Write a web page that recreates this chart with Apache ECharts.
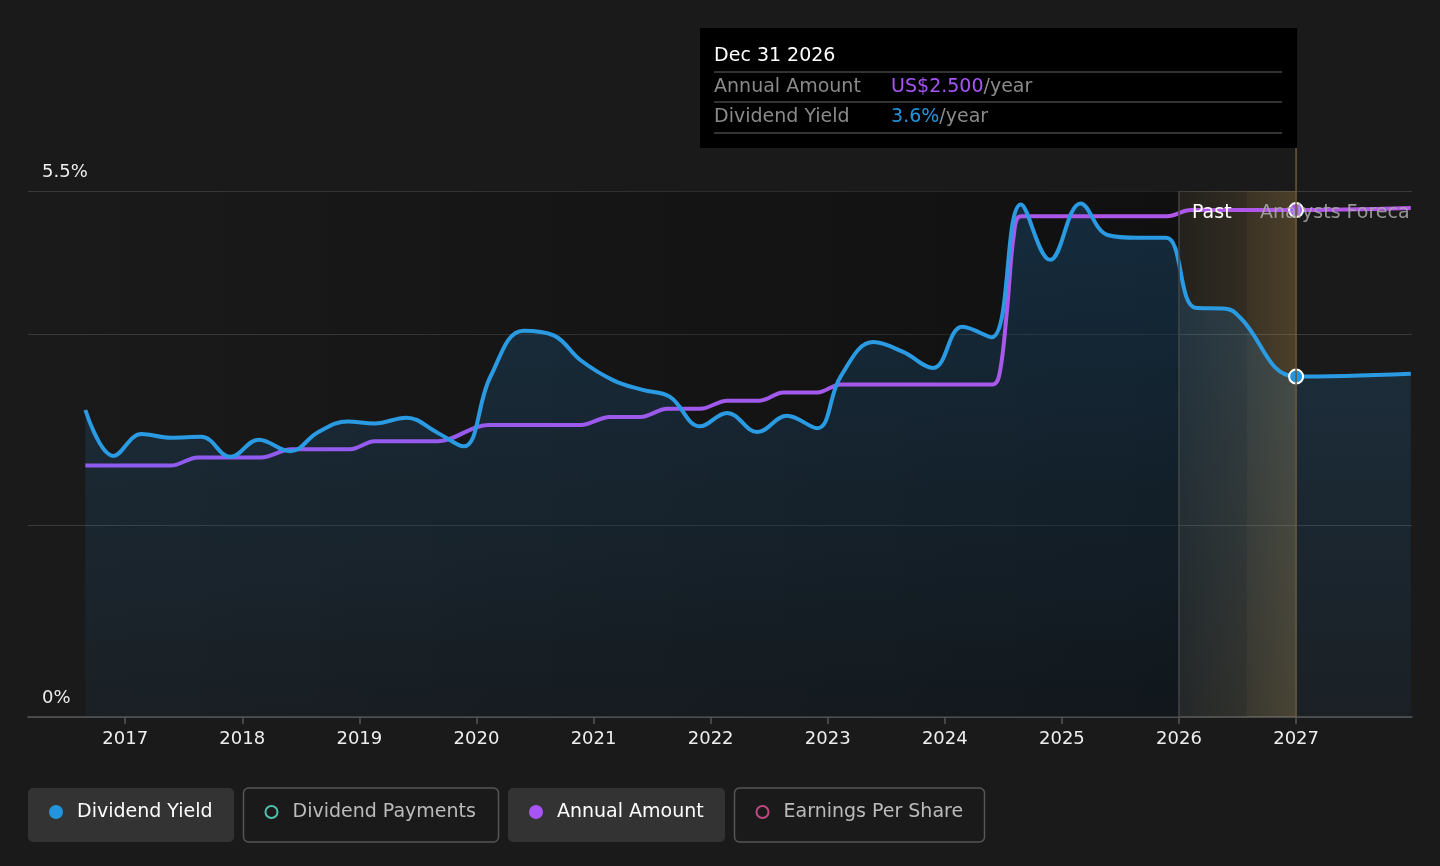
<!DOCTYPE html>
<html>
<head>
<meta charset="utf-8">
<script src="https://cdn.jsdelivr.net/npm/echarts@6/dist/echarts.min.js"></script>
<style>
  html, body { margin: 0; padding: 0; background: #1a1a1a; }
  #chart { width: 1440px; height: 866px; }
</style>
</head>
<body>
<div id="chart"></div>
<script>
// year ticks on the time axis
const years = [2017, 2018, 2019, 2020, 2021, 2022, 2023, 2024, 2025, 2026, 2027];
const yieldGrid = [0, 2, 4, 5.5];
const yieldLabels = [0, 5.5];

// dividend yield, % (fractional year, value)
const yieldData = [
  [2016.66, 3.21], [2016.90, 2.73], [2017.14, 2.96], [2017.39, 2.92], [2017.65, 2.93],
  [2017.90, 2.72], [2018.14, 2.90], [2018.41, 2.78], [2018.65, 2.98], [2018.90, 3.09],
  [2019.13, 3.07], [2019.40, 3.13], [2019.67, 2.97], [2019.89, 2.83], [2020.12, 3.56],
  [2020.40, 4.04], [2020.66, 3.99], [2020.89, 3.73], [2021.17, 3.52], [2021.42, 3.42],
  [2021.65, 3.35], [2021.91, 3.04], [2022.14, 3.18], [2022.40, 2.98], [2022.65, 3.15],
  [2022.91, 3.02], [2023.11, 3.56], [2023.39, 3.92], [2023.64, 3.82], [2023.90, 3.65],
  [2024.15, 4.08], [2024.40, 3.97], [2024.65, 5.36], [2024.90, 4.78], [2025.16, 5.37],
  [2025.39, 5.04], [2025.65, 5.01], [2025.89, 5.01], [2026.14, 4.28], [2026.40, 4.27],
  [2026.52, 4.18], [2027.00, 3.56], [2027.98, 3.59]
];

// annual dividend amount, US$
const amountData = [
  [2016.66, 1.24], [2017.39, 1.24], [2017.62, 1.28], [2018.16, 1.28], [2018.42, 1.32],
  [2018.92, 1.32], [2019.13, 1.36], [2019.67, 1.36], [2020.10, 1.44], [2020.89, 1.44],
  [2021.14, 1.48], [2021.40, 1.48], [2021.63, 1.52], [2021.91, 1.52], [2022.14, 1.56],
  [2022.42, 1.56], [2022.62, 1.60], [2022.91, 1.60], [2023.11, 1.64], [2024.41, 1.64],
  [2024.47, 1.70], [2024.53, 2.00], [2024.59, 2.38], [2024.65, 2.47],
  [2025.90, 2.47], [2026.10, 2.50], [2027.00, 2.50], [2027.98, 2.51]
];

const forecastStart = 2026;
const tipAt = 2027;
const tipYield = 3.56;
const tipAmount = 2.50;

const legendItems = [
  { name: 'Dividend Yield', color: '#2394df', active: true },
  { name: 'Dividend Payments', color: '#4fc1a9', active: false },
  { name: 'Annual Amount', color: '#a855f7', active: true },
  { name: 'Earnings Per Share', color: '#c0487f', active: false }
];

const FONT = 'DejaVu Sans';
const BG = '#1a1a1a';
const lin = (stops) => new echarts.graphic.LinearGradient(0, 0, 1, 0, stops);

const chart = echarts.init(document.getElementById('chart'));

chart.setOption({
  backgroundColor: BG,
  animation: false,
  textStyle: { fontFamily: FONT },
  grid: { left: 28, right: 28, top: 191, bottom: 149 },
  xAxis: {
    type: 'value',
    min: 2016.17,
    max: 2027.99,
    axisLine: { lineStyle: { color: '#555', width: 1.5 } },
    axisTick: { customValues: years, length: 7, lineStyle: { color: '#555', width: 1.5 } },
    axisLabel: {
      customValues: years, color: '#eee', fontSize: 18, margin: 13,
      formatter: v => String(v)
    },
    splitLine: { show: false }
  },
  yAxis: [
    {
      type: 'value', min: 0, max: 5.5,
      axisLine: { show: false },
      axisTick: { show: false, customValues: yieldGrid },
      splitLine: { lineStyle: { color: '#3a3a3a', width: 1 } },
      axisLabel: {
        customValues: yieldLabels, inside: true, margin: 14,
        verticalAlign: 'bottom', padding: [0, 0, 10, 0],
        color: '#eee', fontSize: 18,
        formatter: v => v + '%'
      }
    },
    { type: 'value', min: 0, max: 2.594, show: false }
  ],
  series: [
    {
      // background bands: past darkening + forecast zone
      type: 'line', z: 1, silent: true, data: yieldData,
      showSymbol: false, lineStyle: { opacity: 0 },
      markArea: {
        silent: true,
        data: [
          [{ xAxis: 2016.17, itemStyle: { color: lin([{ offset: 0, color: 'rgba(0,0,0,0)' }, { offset: 1, color: 'rgba(0,0,0,0.38)' }]) } }, { xAxis: forecastStart }],
          [{ xAxis: forecastStart, itemStyle: { color: lin([{ offset: 0, color: 'rgba(190,150,80,0.06)' }, { offset: 1, color: 'rgba(190,150,80,0.15)' }]) } }, { xAxis: 2026.58 }],
          [{ xAxis: 2026.58, itemStyle: { color: lin([{ offset: 0, color: 'rgba(190,150,80,0.2)' }, { offset: 1, color: 'rgba(190,150,80,0.3)' }]) } }, { xAxis: tipAt }]
        ]
      },
      markLine: {
        silent: true, symbol: ['none', 'none'], label: { show: false },
        lineStyle: { color: '#454545', width: 1.5, type: 'solid' },
        data: [{ xAxis: forecastStart }]
      }
    },
    {
      name: 'Dividend Yield area', type: 'line', z: 2, data: yieldData,
      smooth: 0.4, showSymbol: false, silent: true,
      lineStyle: { opacity: 0 },
      areaStyle: {
        color: new echarts.graphic.LinearGradient(0, 0, 0, 1, [
          { offset: 0, color: 'rgba(35,150,240,0.28)' },
          { offset: 1, color: 'rgba(35,150,240,0.07)' }
        ])
      }
    },
    {
      name: 'Annual Amount', type: 'line', z: 3, yAxisIndex: 1, data: amountData,
      smooth: 0.35, showSymbol: false,
      lineStyle: { width: 4, color: lin([{ offset: 0, color: '#8c5cf0' }, { offset: 1, color: '#b556e8' }]) },
      markPoint: {
        symbol: 'circle', symbolSize: 14, label: { show: false },
        itemStyle: { color: '#a855f7', borderColor: '#fff', borderWidth: 2 },
        data: [{ coord: [tipAt, tipAmount] }]
      }
    },
    {
      name: 'Dividend Yield', type: 'line', z: 4, data: yieldData,
      smooth: 0.4, showSymbol: false,
      lineStyle: { width: 4, color: '#2a9be3' },
      markPoint: {
        symbol: 'circle', symbolSize: 14, label: { show: false },
        itemStyle: { color: '#2394df', borderColor: '#fff', borderWidth: 2 },
        data: [{ coord: [tipAt, tipYield] }]
      }
    }
  ]
});

// overlay: tooltip box, zone labels, legend chips
const pTip = chart.convertToPixel({ xAxisIndex: 0, yAxisIndex: 0 }, [tipAt, 0]);
const pPast = chart.convertToPixel({ xAxisIndex: 0, yAxisIndex: 0 }, [forecastStart, 0]);
const tipX = pTip[0];
const boxRight = tipX + 1;
const boxLeft = boxRight - 597;

const graphic = [
  { type: 'line', z: 5, shape: { x1: tipX, y1: 148, x2: tipX, y2: pTip[1] }, style: { stroke: '#6b5a3c', lineWidth: 1.5 } },
  { type: 'rect', z: 20, shape: { x: boxLeft, y: 28, width: 597, height: 120 }, style: { fill: '#000' } },
  { type: 'text', z: 21, left: boxLeft + 14, top: 47, style: { text: 'Dec 31 2026', fill: '#fff', font: '19px ' + FONT } },
  { type: 'line', z: 21, shape: { x1: boxLeft + 14, y1: 72, x2: boxRight - 15, y2: 72 }, style: { stroke: '#444', lineWidth: 1.5 } },
  { type: 'text', z: 21, left: boxLeft + 14, top: 78, style: { text: 'Annual Amount', fill: '#8a8a8a', font: '19px ' + FONT } },
  { type: 'text', z: 21, left: boxLeft + 191, top: 78, style: { text: '{v|US$2.500}{u|/year}', rich: { v: { fill: '#a855f7', font: '19px ' + FONT }, u: { fill: '#8a8a8a', font: '19px ' + FONT } } } },
  { type: 'line', z: 21, shape: { x1: boxLeft + 14, y1: 102, x2: boxRight - 15, y2: 102 }, style: { stroke: '#444', lineWidth: 1.5 } },
  { type: 'text', z: 21, left: boxLeft + 14, top: 108, style: { text: 'Dividend Yield', fill: '#8a8a8a', font: '19px ' + FONT } },
  { type: 'text', z: 21, left: boxLeft + 191, top: 108, style: { text: '{v|3.6%}{u|/year}', rich: { v: { fill: '#2394df', font: '19px ' + FONT }, u: { fill: '#8a8a8a', font: '19px ' + FONT } } } },
  { type: 'line', z: 21, shape: { x1: boxLeft + 14, y1: 133, x2: boxRight - 15, y2: 133 }, style: { stroke: '#444', lineWidth: 1.5 } },
  { type: 'text', z: 10, x: pPast[0] + 13, y: 213, style: { text: 'Past', fill: '#fff', font: '19px ' + FONT, verticalAlign: 'middle' } },
  { type: 'text', z: 10, x: tipX - 36, y: 213, style: { text: 'Analysts Forecast', fill: 'rgba(170,170,170,0.85)', font: '19px ' + FONT, verticalAlign: 'middle', width: 1412 - (tipX - 36), overflow: 'truncate', ellipsis: '' } }
];

const chipW = [206, 255, 217, 250];
let cx = 28;
legendItems.forEach((it, i) => {
  const w = chipW[i];
  graphic.push({
    type: 'rect', z: 10,
    shape: { x: cx, y: 788, width: w, height: 54, r: 5 },
    style: it.active ? { fill: '#333' } : { fill: BG, stroke: '#555', lineWidth: 1.5 }
  });
  graphic.push({
    type: 'circle', z: 11,
    shape: { cx: cx + 28, cy: 812, r: it.active ? 7 : 6 },
    style: it.active ? { fill: it.color } : { fill: 'none', stroke: it.color, lineWidth: 2 }
  });
  graphic.push({
    type: 'text', z: 11, x: cx + 49, y: 812,
    style: { text: it.name, fill: it.active ? '#fff' : '#bbb', font: '19px ' + FONT, verticalAlign: 'middle' }
  });
  cx += w + 9.5;
});

chart.setOption({ graphic: graphic });
</script>
</body>
</html>
